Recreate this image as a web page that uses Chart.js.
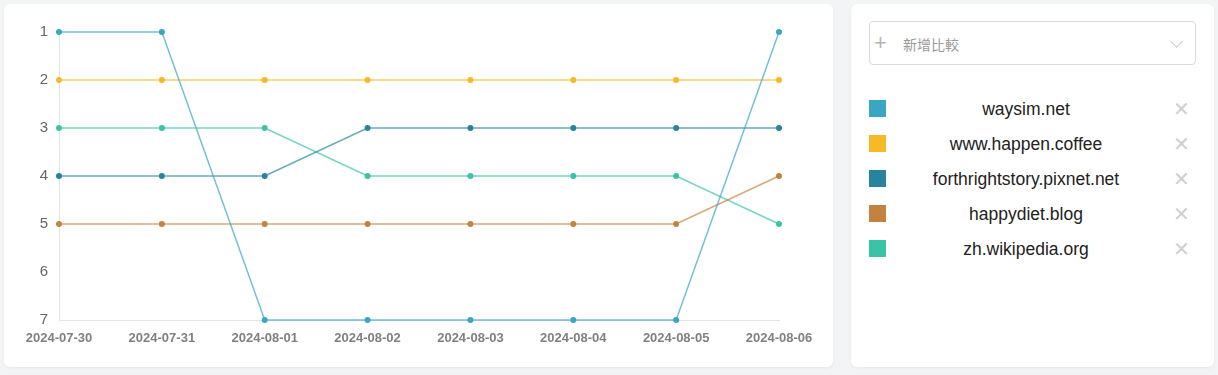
<!DOCTYPE html>
<html>
<head>
<meta charset="utf-8">
<script src="https://cdn.jsdelivr.net/npm/chart.js@4/dist/chart.umd.min.js"></script>
<style>
  html, body { margin: 0; padding: 0; background: #f3f4f6; width: 1218px; height: 375px; overflow: hidden;
    font-family: "Liberation Sans", Arial, "Noto Sans CJK TC", sans-serif; }
  .card { position: absolute; background: #fff; border-radius: 6px; box-shadow: 0 1px 3px rgba(0,0,0,0.06); }
  #chartCard { left: 4px; top: 4px; width: 829px; height: 363px; }
  #sideCard { left: 851px; top: 4px; width: 363px; height: 363px; }
  #chartCard canvas { position: absolute; left: 0; top: 0; }
  .picker { position: absolute; left: 18px; top: 17px; width: 325px; height: 42px; border: 1px solid #d8dae2; border-radius: 4px; }
  .picker .plus { position: absolute; left: 4px; top: 8px; font-size: 22px; color: #b5b5b5; font-weight: 300; }
  .picker .ph { position: absolute; left: 33px; top: 12px; font-size: 14px; color: #9a9a9a; font-family: "Noto Sans CJK TC", sans-serif; }
  .picker .chev { position: absolute; right: 14px; top: 15px; width: 8px; height: 8px; border-right: 1px solid #c8c8c8; border-bottom: 1px solid #c8c8c8; transform: rotate(45deg); }
  .item { position: absolute; left: 18px; width: 330px; height: 20px; }
  .item .sw { position: absolute; left: 0; top: 1px; width: 17px; height: 17px; }
  .item .name { position: absolute; left: 12px; width: 290px; text-align: center; font-size: 17.5px; color: #222; top: 0; }
  .item .x { position: absolute; left: 304px; top: -2px; font-size: 20px; color: #cfcfcf; }
</style>
</head>
<body>
<div class="card" id="chartCard"><canvas id="c" width="829" height="363"></canvas></div>
<div class="card" id="sideCard">
  <div class="picker"><span class="plus">+</span><span class="ph">新增比較</span><span class="chev"></span></div>
  <div id="legend"></div>
</div>
<script>
const dates = ['2024-07-30', '2024-07-31', '2024-08-01', '2024-08-02', '2024-08-03', '2024-08-04', '2024-08-05', '2024-08-06'];
const sites = ['waysim.net', 'www.happen.coffee', 'forthrightstory.pixnet.net', 'happydiet.blog', 'zh.wikipedia.org'];
const colors = ['#39a6c4', '#f7b924', '#27849e', '#c4833d', '#3bc3a6'];

const waysim = [1, 1, 7, 7, 7, 7, 7, 1];
const happenCoffee = [2, 2, 2, 2, 2, 2, 2, 2];
const forthright = [4, 4, 4, 3, 3, 3, 3, 3];
const happydiet = [5, 5, 5, 5, 5, 5, 5, 4];
const wikipedia = [3, 3, 3, 4, 4, 4, 4, 5];
const series = [waysim, happenCoffee, forthright, happydiet, wikipedia];

function alpha(hex, a) {
  const n = parseInt(hex.slice(1), 16);
  return 'rgba(' + (n >> 16) + ',' + ((n >> 8) & 255) + ',' + (n & 255) + ',' + a + ')';
}

// side legend
const legend = document.getElementById('legend');
sites.forEach((s, i) => {
  const d = document.createElement('div');
  d.className = 'item';
  d.style.top = (95 + i * 35) + 'px';
  d.innerHTML = '<span class="sw" style="background:' + colors[i] + '"></span><span class="name">' + s + '</span><span class="x">✕</span>';
  legend.appendChild(d);
});

new Chart(document.getElementById('c'), {
  type: 'line',
  data: {
    labels: dates,
    datasets: series.map((data, i) => ({
      label: sites[i],
      data: data,
      borderColor: alpha(colors[i], 0.7),
      backgroundColor: colors[i],
      pointBackgroundColor: colors[i],
      pointBorderWidth: 0,
      pointRadius: 3,
      borderWidth: 1.5,
      tension: 0,
      clip: false
    }))
  },
  options: {
    responsive: false,
    animation: false,
    layout: { padding: { top: 28, right: 54, left: 0, bottom: 0 } },
    plugins: { legend: { display: false }, tooltip: { enabled: false } },
    scales: {
      x: {
        grid: { display: false, drawTicks: false },
        border: { display: true, color: '#e3e3e3' },
        ticks: { color: '#808080', font: { size: 13, family: '"Liberation Sans", Arial', weight: 'bold' }, padding: 11, maxRotation: 0 },
        afterFit: s => { s.height = 47; }
      },
      y: {
        reverse: true,
        min: 1,
        max: 7,
        grid: { display: false, drawTicks: false },
        border: { display: true, color: '#e3e3e3' },
        ticks: { stepSize: 1, color: '#666', font: { size: 15, family: '"Liberation Sans", Arial' }, padding: 11 },
        afterFit: s => { s.width = 55; }
      }
    }
  }
});
</script>
</body>
</html>
